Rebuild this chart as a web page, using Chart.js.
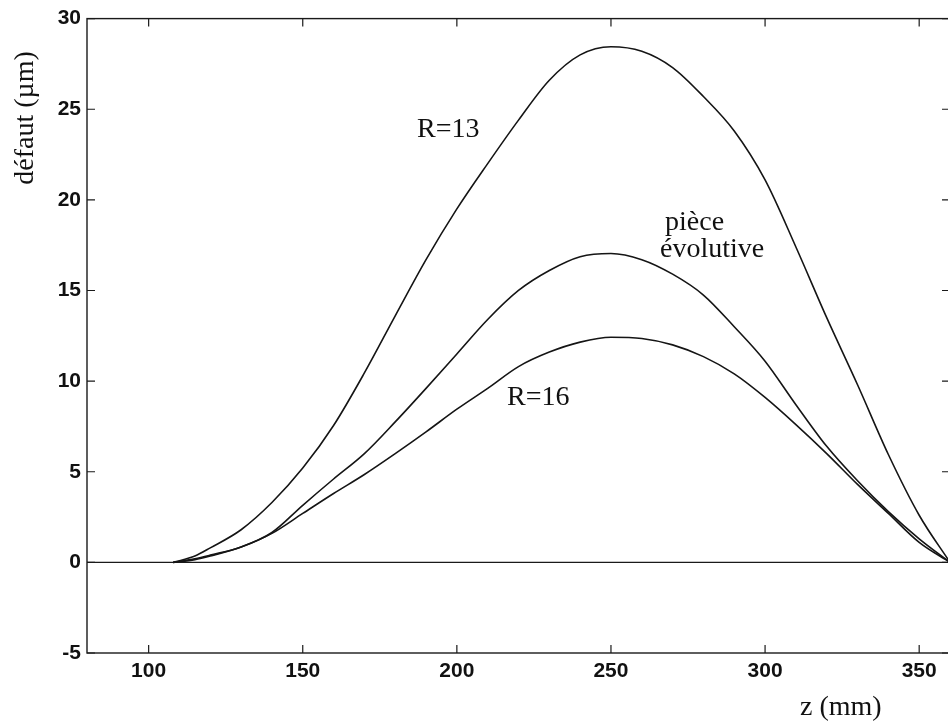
<!DOCTYPE html>
<html>
<head>
<meta charset="utf-8">
<script src="https://cdn.jsdelivr.net/npm/chart.js@4.4.1/dist/chart.umd.min.js"></script>
<style>
html,body{margin:0;padding:0;background:#fff;overflow:hidden;}
#wrap{width:951px;height:726px;}
</style>
</head>
<body>
<div id="wrap"><canvas id="c" width="951" height="726"></canvas></div>
<script>
// z positions (mm)
const zValues = [108,115,120,130,140,150,160,170,180,190,200,210,220,230,240,250,260,270,280,290,300,310,320,330,340,350,360];
// défaut (µm) for R=13
const r13 = [0,0.35,0.8,1.8,3.3,5.2,7.55,10.45,13.6,16.7,19.5,22.0,24.4,26.6,28.0,28.45,28.2,27.3,25.7,23.8,21.1,17.4,13.5,9.8,5.95,2.6,0];
// pièce évolutive
const evolutive = [0,0.2,0.4,0.85,1.65,3.15,4.6,6.0,7.75,9.6,11.5,13.4,15.0,16.1,16.86,17.04,16.7,15.9,14.75,13.0,11.1,8.7,6.4,4.5,2.8,1.3,0];
// R=16
const r16 = [0,0.15,0.35,0.85,1.6,2.7,3.8,4.85,6.0,7.2,8.45,9.6,10.8,11.6,12.15,12.42,12.35,12.0,11.35,10.4,9.1,7.6,6.0,4.3,2.7,1.1,0];

const xTicks = [100,150,200,250,300,350];
const yTicks = [-5,0,5,10,15,20,25,30];
const xRange = [80,360];
const yRange = [-5,30];

const toPts = arr => zValues.map((z,i)=>({x:z,y:arr[i]}));
const lineStyle = {borderColor:'#151515',borderWidth:1.6,pointRadius:0,fill:false,cubicInterpolationMode:'monotone'};

const framePlugin = {
  id:'frame',
  beforeDatasetsDraw(chart){
    const {ctx, chartArea:a, scales:{x,y}} = chart;
    ctx.save();
    ctx.strokeStyle='#1a1a1a';
    ctx.lineWidth=1.4;
    ctx.strokeRect(a.left,a.top,a.right-a.left,a.bottom-a.top);
    const y0 = y.getPixelForValue(0);
    ctx.beginPath(); ctx.moveTo(a.left,y0); ctx.lineTo(a.right,y0); ctx.stroke();
    const L = 8;
    ctx.lineWidth=1.2;
    xTicks.forEach(v=>{
      const px = x.getPixelForValue(v);
      ctx.beginPath();
      ctx.moveTo(px,a.bottom); ctx.lineTo(px,a.bottom-L);
      ctx.moveTo(px,a.top); ctx.lineTo(px,a.top+L);
      ctx.stroke();
    });
    yTicks.forEach(v=>{
      const py = y.getPixelForValue(v);
      ctx.beginPath();
      ctx.moveTo(a.left,py); ctx.lineTo(a.left+L,py);
      ctx.moveTo(a.right,py); ctx.lineTo(a.right-L,py);
      ctx.stroke();
    });
    ctx.restore();
  },
  afterDraw(chart){
    const {ctx} = chart;
    ctx.save();
    ctx.fillStyle='#111';
    ctx.font='28px "Liberation Serif", "DejaVu Serif", serif';
    ctx.textBaseline='alphabetic';
    ctx.textAlign='left';
    ctx.fillText('R=13',417,137);
    ctx.fillText('pièce',665,230);
    ctx.fillText('évolutive',660,257);
    ctx.fillText('R=16',507,405);
    ctx.fillText('z (mm)',800,715);
    ctx.translate(33,118);
    ctx.rotate(-Math.PI/2);
    ctx.textAlign='center';
    ctx.fillText('défaut (µm)',0,0);
    ctx.restore();
  }
};

new Chart(document.getElementById('c'),{
  type:'line',
  data:{datasets:[
    Object.assign({label:'R=13',data:toPts(r13)},lineStyle),
    Object.assign({label:'pièce évolutive',data:toPts(evolutive)},lineStyle),
    Object.assign({label:'R=16',data:toPts(r16)},lineStyle)
  ]},
  options:{
    responsive:false,
    animation:false,
    layout:{padding:{top:15,right:1,left:0,bottom:0}},
    plugins:{legend:{display:false},tooltip:{enabled:false}},
    scales:{
      x:{type:'linear',min:xRange[0],max:xRange[1],
        afterBuildTicks:s=>{s.ticks=xTicks.map(v=>({value:v}));},
        afterFit:s=>{s.height=73;},
        grid:{display:false,drawTicks:false},border:{display:false},
        ticks:{color:'#111',padding:6,maxRotation:0,autoSkip:false,font:{family:'"Liberation Sans", Arial, sans-serif',size:21,weight:'bold'}}
      },
      y:{type:'linear',min:yRange[0],max:yRange[1],
        afterBuildTicks:s=>{s.ticks=yTicks.map(v=>({value:v}));},
        afterFit:s=>{s.width=87;},
        grid:{display:false,drawTicks:false},border:{display:false},
        ticks:{color:'#111',padding:6,autoSkip:false,font:{family:'"Liberation Sans", Arial, sans-serif',size:21,weight:'bold'}}
      }
    }
  },
  plugins:[framePlugin]
});
</script>
</body>
</html>
